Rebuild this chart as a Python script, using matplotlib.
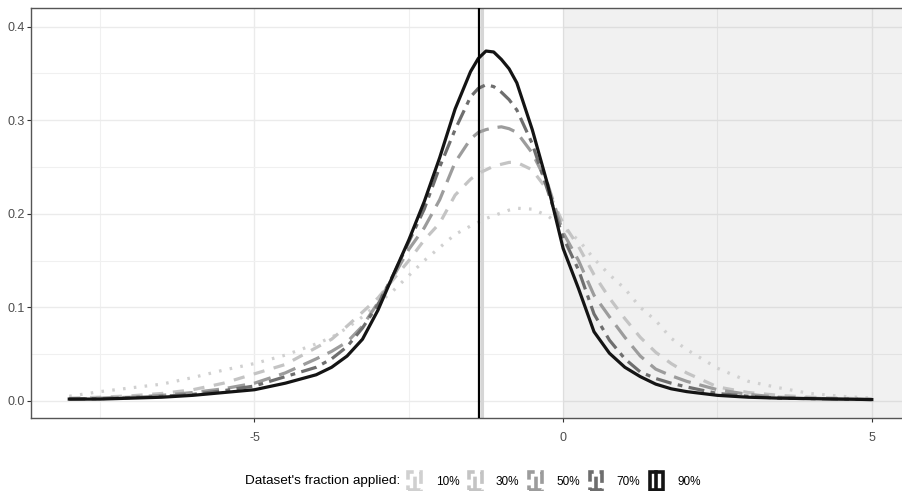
import matplotlib
matplotlib.use("Agg")
from matplotlib import pyplot as plt
from matplotlib.legend_handler import HandlerBase
from matplotlib.lines import Line2D
from matplotlib.patches import Rectangle

plt.rcParams['font.family'] = ['Liberation Sans', 'DejaVu Sans']
plt.rcParams['axes.unicode_minus'] = False

# density estimates, one per dataset fraction
x = [-8, -7.5, -7, -6.5, -6, -5.5, -5, -4.5, -4, -3.75, -3.5, -3.25, -3, -2.75,
     -2.5, -2.25, -2, -1.75, -1.5, -1.375, -1.25, -1.125, -1, -0.875, -0.75,
     -0.5, -0.25, 0, 0.25, 0.5, 0.75, 1, 1.25, 1.5, 1.75, 2, 2.5, 3, 3.5, 4,
     4.5, 5]

dens_10 = [0.005, 0.010, 0.014, 0.018, 0.025, 0.033, 0.040, 0.049, 0.061, 0.068,
           0.078, 0.090, 0.104, 0.118, 0.134, 0.150, 0.164, 0.178, 0.187, 0.191,
           0.195, 0.198, 0.201, 0.204, 0.206, 0.205, 0.198, 0.185, 0.172, 0.152,
           0.135, 0.120, 0.100, 0.086, 0.067, 0.055, 0.035, 0.021, 0.014, 0.008,
           0.005, 0.003]
dens_30 = [0.003, 0.004, 0.0055, 0.008, 0.012, 0.019, 0.029, 0.039, 0.057, 0.066,
           0.080, 0.095, 0.110, 0.130, 0.150, 0.172, 0.190, 0.220, 0.237, 0.243,
           0.247, 0.251, 0.253, 0.255, 0.255, 0.247, 0.225, 0.190, 0.165, 0.135,
           0.110, 0.088, 0.068, 0.052, 0.040, 0.030, 0.015, 0.009, 0.006, 0.004,
           0.003, 0.002]
dens_50 = [0.002, 0.003, 0.004, 0.006, 0.009, 0.013, 0.019, 0.030, 0.045, 0.053,
           0.063, 0.080, 0.105, 0.133, 0.162, 0.185, 0.215, 0.255, 0.280, 0.287,
           0.290, 0.292, 0.293, 0.291, 0.287, 0.265, 0.232, 0.180, 0.150, 0.113,
           0.090, 0.068, 0.048, 0.034, 0.027, 0.021, 0.012, 0.007, 0.004, 0.003,
           0.002, 0.0015]
dens_70 = [0.002, 0.0025, 0.0035, 0.005, 0.007, 0.011, 0.016, 0.026, 0.036, 0.045,
           0.058, 0.078, 0.103, 0.135, 0.170, 0.205, 0.250, 0.290, 0.325, 0.334,
           0.338, 0.336, 0.330, 0.322, 0.311, 0.275, 0.225, 0.175, 0.140, 0.093,
           0.065, 0.045, 0.031, 0.024, 0.019, 0.015, 0.008, 0.005, 0.003, 0.0025,
           0.002, 0.0015]
dens_90 = [0.002, 0.002, 0.003, 0.004, 0.006, 0.009, 0.012, 0.019, 0.028, 0.036,
           0.048, 0.066, 0.097, 0.135, 0.172, 0.213, 0.260, 0.312, 0.352, 0.366,
           0.374, 0.373, 0.365, 0.355, 0.340, 0.290, 0.231, 0.163, 0.120, 0.074,
           0.051, 0.036, 0.026, 0.018, 0.013, 0.010, 0.006, 0.004, 0.003, 0.0025,
           0.002, 0.0015]

labels = ['10%', '30%', '50%', '70%', '90%']
series = [dens_10, dens_30, dens_50, dens_70, dens_90]
colors = ['#d0d0d0', '#c4c4c4', '#9c9c9c', '#6e6e6e', '#141414']
dashes = [(0, (0.8, 2.6)), (0, (3.5, 3)), (0, (5.5, 2.8)), (0, (5, 2, 1.5, 2)), '-']

vline_x = -1.36


class DensityKey(HandlerBase):
    # rectangle outline + centre line, like the ggplot density/vline key
    def create_artists(self, legend, orig_handle, xdescent, ydescent,
                       width, height, fontsize, trans):
        col = orig_handle.get_color()
        ls = orig_handle.get_linestyle()
        rect = Rectangle((-xdescent + 1, -ydescent - 2), width - 2, height + 4,
                         fill=False, edgecolor=col, linestyle=ls, lw=2.6,
                         transform=trans)
        cx = -xdescent + width / 2
        mid = Line2D([cx, cx], [-ydescent - 2, -ydescent + height + 2],
                     color=col, linestyle=ls, lw=2.6, transform=trans)
        return [rect, mid]


fig = plt.figure(figsize=(9.03, 4.91), dpi=100)
ax = fig.add_axes([0.0343, 0.1487, 0.9756, 0.835])

ax.axvspan(0, 10, color='black', alpha=0.055, lw=0, zorder=1)

lines = []
for lab, d, c, ls in zip(labels, series, colors, dashes):
    ln, = ax.plot(x, d, color=c, linestyle=ls, lw=2.3, label=lab, zorder=3)
    lines.append(ln)

ax.axvline(vline_x + 0.05, color='#d6d6d6', lw=2.2, zorder=2)
ax.axvline(vline_x, color='black', lw=1.6, zorder=4)

ax.set_xlim(-8.62, 5.65)
ax.set_ylim(-0.0182, 0.42)
ax.set_xticks([-5, 0, 5])
ax.set_xticks([-7.5, -2.5, 2.5], minor=True)
ax.set_yticks([0.0, 0.1, 0.2, 0.3, 0.4])
ax.set_yticks([0.05, 0.15, 0.25, 0.35], minor=True)
ax.set_yticklabels(['0.0', '0.1', '0.2', '0.3', '0.4'])

ax.set_axisbelow(True)
ax.grid(which='major', color='#ebebeb', lw=1.0)
ax.grid(which='minor', color='#f0f0f0', lw=0.8)
ax.tick_params(which='major', length=3, width=0.8, color='#333333',
               labelcolor='#4d4d4d', labelsize=9)
ax.tick_params(axis='x', pad=7)
ax.tick_params(axis='y', pad=1.5)
ax.tick_params(which='minor', length=0)
for side in ['left', 'bottom', 'top']:
    ax.spines[side].set_color('#555555')
    ax.spines[side].set_linewidth(1.0)
ax.spines['right'].set_visible(False)

fig.text(400 / 903, 1 - 481 / 491, "Dataset's fraction applied:", ha='right',
         va='center', fontsize=9.7, color='black')
fig.legend(handles=lines, labels=labels, loc='center left',
           bbox_to_anchor=(407 / 903, 1 - 481 / 491), ncol=5, frameon=False,
           fontsize=8.5, handler_map={Line2D: DensityKey()},
           handlelength=1.32, handleheight=1.3, handletextpad=1.1,
           columnspacing=0.7, borderpad=0, borderaxespad=0)

fig.savefig('out.png', dpi=100)
